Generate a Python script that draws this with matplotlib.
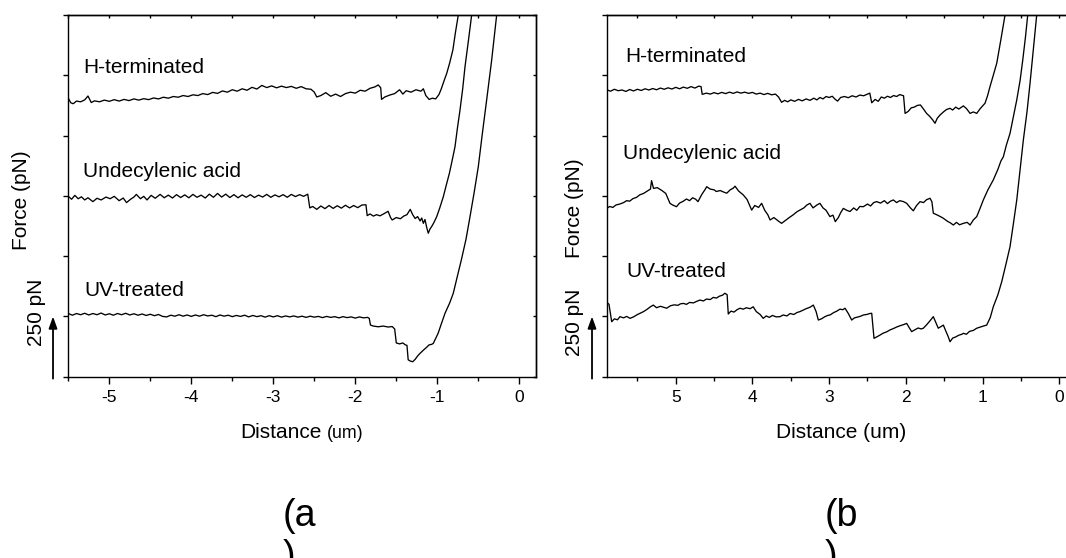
import matplotlib
matplotlib.use("Agg")
import matplotlib.pyplot as plt

plt.rcParams['font.family'] = ['Liberation Sans', 'DejaVu Sans']
plt.rcParams['axes.unicode_minus'] = False

# ---------------- data (Force in pN, Distance in um) ----------------
# Panel (a)
a_h_x = [-5.50, -5.47, -5.44, -5.40, -5.35, -5.30, -5.26, -5.22, -5.18, -5.12, -5.06, -5.00, -4.94, -4.88, -4.82,
         -4.76, -4.70, -4.64, -4.58, -4.52, -4.46, -4.40, -4.34, -4.28, -4.22, -4.16, -4.10, -4.04, -3.98, -3.92,
         -3.86, -3.80, -3.74, -3.68, -3.62, -3.56, -3.50, -3.44, -3.38, -3.32, -3.26, -3.20, -3.14, -3.08, -3.02,
         -2.96, -2.90, -2.84, -2.78, -2.72, -2.66, -2.60, -2.54, -2.50, -2.47, -2.42, -2.36, -2.30, -2.24, -2.18,
         -2.12, -2.06, -2.00, -1.94, -1.88, -1.82, -1.76, -1.72, -1.69, -1.68, -1.64, -1.58, -1.52, -1.46, -1.42,
         -1.38, -1.32, -1.26, -1.20, -1.17, -1.14, -1.10, -1.06, -1.02, -0.98, -0.95, -0.92, -0.885, -0.85, -0.81,
         -0.78, -0.744]
a_h_y = [1155, 1136, 1132, 1143, 1140, 1148, 1164, 1137, 1144, 1140, 1147, 1142, 1149, 1143, 1150,
         1145, 1152, 1147, 1153, 1149, 1156, 1152, 1159, 1155, 1162, 1159, 1166, 1162, 1169, 1166,
         1174, 1170, 1179, 1175, 1185, 1180, 1190, 1184, 1194, 1188, 1200, 1193, 1208, 1199, 1206,
         1198, 1205, 1199, 1204, 1196, 1203, 1194, 1192, 1180, 1160, 1166, 1178, 1163, 1172, 1162,
         1174, 1180, 1176, 1188, 1184, 1196, 1202, 1210, 1198, 1150, 1160, 1168, 1174, 1190, 1172,
         1186, 1180, 1190, 1184, 1194, 1166, 1150, 1155, 1152, 1170, 1195, 1225, 1258, 1300, 1355,
         1425, 1500]

a_u_x = [-5.50, -5.46, -5.42, -5.38, -5.34, -5.30, -5.26, -5.20, -5.15, -5.10, -5.04, -4.99, -4.94, -4.88, -4.83,
         -4.79, -4.74, -4.70, -4.67, -4.62, -4.58, -4.54, -4.49, -4.44, -4.38, -4.33, -4.28, -4.23, -4.18, -4.13,
         -4.08, -4.03, -3.98, -3.93, -3.88, -3.83, -3.78, -3.73, -3.68, -3.63, -3.58, -3.53, -3.48, -3.43, -3.38,
         -3.33, -3.28, -3.23, -3.18, -3.13, -3.08, -3.03, -2.98, -2.93, -2.88, -2.83, -2.78, -2.73, -2.68, -2.63,
         -2.58, -2.555, -2.52, -2.47, -2.42, -2.37, -2.32, -2.27, -2.22, -2.17, -2.12, -2.07, -2.02, -1.97, -1.92,
         -1.87, -1.855, -1.82, -1.78, -1.74, -1.70, -1.65, -1.60, -1.57, -1.55, -1.50, -1.45, -1.41, -1.37, -1.33,
         -1.30, -1.27, -1.24, -1.21, -1.19, -1.17, -1.15, -1.13, -1.11, -1.09, -1.07, -1.04, -1.007, -0.97, -0.927,
         -0.89, -0.853, -0.82, -0.784, -0.755, -0.723, -0.69, -0.662, -0.62, -0.581]
a_u_y = [748, 736, 752, 738, 746, 733, 742, 726, 740, 733, 745, 738, 748, 730, 741,
         722, 736, 745, 756, 738, 748, 733, 752, 740, 756, 742, 753, 741, 755, 743,
         754, 742, 756, 744, 753, 741, 757, 744, 760, 745, 757, 743, 755, 742, 754,
         744, 755, 743, 753, 745, 756, 744, 754, 746, 755, 744, 756, 747, 755, 748,
         757, 700, 706, 694, 708, 697, 710, 698, 709, 699, 711, 700, 710, 701, 712,
         713, 668, 675, 666, 672, 667, 676, 686, 660, 650, 660, 655, 666, 672, 694,
         672, 656, 664, 646, 658, 636, 652, 620, 595, 612, 622, 640, 664, 700, 746,
         795, 843, 895, 954, 1030, 1106, 1195, 1286, 1395, 1500]

a_v_x = [-5.50, -5.45, -5.40, -5.35, -5.30, -5.25, -5.20, -5.15, -5.10, -5.05, -5.00, -4.95, -4.90, -4.85, -4.80,
         -4.75, -4.70, -4.65, -4.60, -4.55, -4.50, -4.45, -4.40, -4.35, -4.30, -4.25, -4.20, -4.15, -4.10, -4.05,
         -4.00, -3.95, -3.90, -3.85, -3.80, -3.75, -3.70, -3.65, -3.60, -3.55, -3.50, -3.45, -3.40, -3.35, -3.30,
         -3.25, -3.20, -3.15, -3.10, -3.05, -3.00, -2.95, -2.90, -2.85, -2.80, -2.75, -2.70, -2.65, -2.60, -2.55,
         -2.50, -2.45, -2.40, -2.35, -2.30, -2.25, -2.20, -2.15, -2.10, -2.05, -2.00, -1.95, -1.90, -1.85, -1.83,
         -1.815, -1.78, -1.72, -1.66, -1.60, -1.55, -1.52, -1.50, -1.46, -1.42, -1.39, -1.37, -1.355, -1.33, -1.30,
         -1.27, -1.24, -1.21, -1.17, -1.13, -1.10, -1.07, -1.049, -0.99, -0.95, -0.906, -0.85, -0.805, -0.76, -0.707,
         -0.65, -0.601, -0.55, -0.50, -0.45, -0.398, -0.337, -0.276]
a_v_y = [262, 255, 262, 257, 263, 256, 262, 257, 264, 256, 261, 255, 262, 257, 263,
         256, 261, 255, 260, 254, 259, 253, 258, 250, 248, 255, 251, 257, 251, 256,
         250, 256, 251, 257, 252, 255, 249, 256, 251, 255, 249, 254, 250, 255, 248,
         254, 249, 253, 247, 253, 248, 253, 247, 252, 248, 252, 247, 251, 246, 251,
         247, 250, 245, 250, 246, 249, 244, 249, 245, 248, 243, 248, 244, 246, 242,
         214, 210, 207, 210, 206, 208, 198, 140, 136, 140, 132, 130, 70, 65, 62,
         72, 86, 97, 110, 122, 132, 134, 138, 180, 220, 263, 305, 346, 410, 484,
         570, 664, 765, 871, 1010, 1148, 1313, 1500]

# Panel (b)
b_h_x = [5.90, 5.85, 5.80, 5.75, 5.70, 5.65, 5.60, 5.55, 5.50, 5.45, 5.40, 5.35, 5.30, 5.25, 5.20,
         5.15, 5.10, 5.05, 5.00, 4.95, 4.90, 4.85, 4.80, 4.75, 4.70, 4.67, 4.655, 4.60, 4.55, 4.50,
         4.45, 4.40, 4.35, 4.30, 4.25, 4.20, 4.15, 4.10, 4.05, 4.00, 3.95, 3.90, 3.85, 3.80, 3.75,
         3.70, 3.66, 3.62, 3.58, 3.54, 3.50, 3.45, 3.40, 3.35, 3.30, 3.25, 3.20, 3.16, 3.12, 3.08,
         3.04, 3.00, 2.96, 2.92, 2.89, 2.85, 2.80, 2.75, 2.70, 2.65, 2.60, 2.55, 2.50, 2.47, 2.445,
         2.40, 2.36, 2.32, 2.28, 2.24, 2.20, 2.16, 2.12, 2.08, 2.03, 2.01, 1.97, 1.93, 1.89, 1.85,
         1.81, 1.77, 1.73, 1.69, 1.65, 1.62, 1.59, 1.555, 1.51, 1.47, 1.424, 1.39, 1.35, 1.31, 1.25,
         1.21, 1.163, 1.12, 1.076, 1.03, 0.968, 0.935, 0.903, 0.86, 0.815, 0.76, 0.707]
b_h_y = [1190, 1184, 1192, 1186, 1189, 1183, 1191, 1185, 1192, 1187, 1194, 1189, 1195, 1190, 1197,
         1192, 1198, 1193, 1200, 1194, 1201, 1196, 1203, 1197, 1205, 1203, 1171, 1176, 1172, 1178,
         1173, 1179, 1174, 1180, 1175, 1181, 1176, 1180, 1175, 1179, 1172, 1176, 1170, 1175, 1169,
         1172, 1160, 1138, 1146, 1140, 1148, 1142, 1150, 1144, 1152, 1146, 1155, 1148, 1158, 1152,
         1162, 1158, 1163, 1150, 1143, 1158, 1162, 1157, 1165, 1160, 1168, 1165, 1172, 1176, 1136,
         1150, 1142, 1160, 1155, 1163, 1158, 1166, 1162, 1170, 1165, 1092, 1100, 1115, 1118, 1125,
         1127, 1110, 1092, 1080, 1065, 1051, 1072, 1085, 1098, 1108, 1113, 1106, 1118, 1110, 1123,
         1112, 1092, 1098, 1092, 1112, 1134, 1165, 1203, 1250, 1300, 1400, 1500]

b_u_x = [5.90, 5.86, 5.82, 5.78, 5.73, 5.68, 5.64, 5.60, 5.56, 5.51, 5.47, 5.42, 5.37, 5.33, 5.315,
         5.29, 5.24, 5.18, 5.13, 5.10, 5.075, 5.04, 4.99, 4.95, 4.90, 4.86, 4.82, 4.78, 4.74, 4.71,
         4.66, 4.62, 4.596, 4.55, 4.50, 4.47, 4.42, 4.37, 4.335, 4.29, 4.25, 4.227, 4.18, 4.12, 4.07,
         4.01, 3.97, 3.92, 3.88, 3.84, 3.80, 3.77, 3.72, 3.66, 3.62, 3.57, 3.52, 3.47, 3.42, 3.38,
         3.33, 3.29, 3.25, 3.21, 3.16, 3.12, 3.08, 3.04, 2.99, 2.95, 2.92, 2.88, 2.85, 2.815, 2.77,
         2.728, 2.68, 2.64, 2.60, 2.554, 2.50, 2.46, 2.42, 2.38, 2.33, 2.28, 2.24, 2.20, 2.163, 2.12,
         2.08, 2.03, 1.989, 1.94, 1.903, 1.86, 1.815, 1.77, 1.73, 1.685, 1.66, 1.642, 1.60, 1.55, 1.511,
         1.46, 1.42, 1.381, 1.34, 1.30, 1.25, 1.20, 1.163, 1.12, 1.076, 1.03, 0.99, 0.93, 0.86, 0.80,
         0.76, 0.729, 0.69, 0.642, 0.60, 0.554, 0.51, 0.476, 0.44, 0.411]
b_u_y = [698, 706, 702, 712, 716, 722, 730, 728, 738, 744, 754, 760, 770, 778, 813,
         781, 784, 772, 760, 738, 719, 712, 705, 720, 728, 737, 730, 742, 736, 726,
         756, 775, 788, 778, 775, 768, 772, 765, 761, 775, 782, 790, 770, 754, 735,
         691, 710, 702, 719, 690, 672, 650, 660, 645, 636, 648, 660, 671, 684, 691,
         700, 712, 719, 700, 712, 719, 700, 690, 664, 670, 643, 660, 680, 698, 690,
         685, 700, 690, 706, 705, 716, 708, 722, 726, 720, 730, 718, 728, 733, 722,
         730, 726, 719, 700, 688, 710, 726, 722, 734, 740, 725, 678, 672, 664, 657,
         645, 638, 629, 640, 630, 636, 640, 629, 650, 664, 700, 733, 775, 816, 860,
         895, 912, 960, 1009, 1075, 1148, 1230, 1313, 1410, 1500]

b_v_x = [5.90, 5.892, 5.87, 5.835, 5.80, 5.76, 5.727, 5.68, 5.64, 5.596, 5.55, 5.51, 5.466, 5.42, 5.38,
         5.33, 5.292, 5.25, 5.20, 5.16, 5.118, 5.07, 5.02, 4.97, 4.94, 4.901, 4.86, 4.82, 4.77, 4.73,
         4.684, 4.64, 4.60, 4.55, 4.51, 4.47, 4.43, 4.39, 4.36, 4.33, 4.315, 4.28, 4.24, 4.20, 4.162,
         4.12, 4.08, 4.03, 3.99, 3.95, 3.90, 3.859, 3.82, 3.78, 3.74, 3.69, 3.64, 3.60, 3.55, 3.51,
         3.46, 3.42, 3.38, 3.34, 3.30, 3.25, 3.206, 3.17, 3.141, 3.10, 3.06, 3.02, 2.989, 2.94, 2.90,
         2.86, 2.82, 2.793, 2.75, 2.706, 2.67, 2.62, 2.58, 2.554, 2.51, 2.47, 2.445, 2.415, 2.38, 2.34,
         2.30, 2.25, 2.206, 2.16, 2.12, 2.07, 2.03, 1.989, 1.95, 1.924, 1.88, 1.84, 1.80, 1.772, 1.73,
         1.69, 1.642, 1.61, 1.577, 1.54, 1.511, 1.48, 1.45, 1.424, 1.39, 1.35, 1.31, 1.27, 1.25, 1.21,
         1.17, 1.12, 1.076, 1.03, 0.99, 0.946, 0.90, 0.86, 0.80, 0.75, 0.70, 0.642, 0.60, 0.554, 0.51,
         0.468, 0.42, 0.381, 0.34, 0.294]
b_v_y = [250, 307, 300, 228, 240, 236, 249, 244, 250, 242, 248, 256, 263, 270, 278,
         290, 297, 286, 292, 288, 284, 294, 298, 296, 302, 304, 300, 308, 306, 312,
         318, 314, 322, 320, 329, 326, 334, 338, 346, 340, 260, 272, 268, 278, 284,
         280, 286, 282, 290, 270, 258, 242, 252, 246, 254, 248, 249, 256, 252, 262,
         258, 266, 270, 276, 282, 288, 297, 270, 235, 240, 248, 254, 256, 266, 272,
         280, 278, 284, 262, 235, 244, 248, 252, 256, 258, 262, 263, 159, 165, 172,
         180, 186, 194, 200, 206, 212, 216, 221, 200, 187, 195, 202, 198, 201, 215,
         230, 249, 225, 201, 208, 214, 190, 168, 145, 160, 165, 172, 176, 180, 176,
         188, 192, 201, 206, 210, 214, 245, 290, 340, 394, 460, 539, 630, 733, 860,
         982, 1100, 1217, 1350, 1500]

labels = ["H-terminated", "Undecylenic acid", "UV-treated"]
a_label_x = [-5.32, -5.32, -5.31]
a_label_y = [1258, 827, 336]
b_label_x = [5.66, 5.69, 5.64]
b_label_y = [1305, 902, 415]

a_major = [-5, -4, -3, -2, -1, 0]
a_minor = [-5.5, -4.5, -3.5, -2.5, -1.5, -0.5]
b_major = [0, 1, 2, 3, 4, 5]
b_minor = [0.5, 1.5, 2.5, 3.5, 4.5, 5.5]
y_ticks = [0, 250, 500, 750, 1000, 1250, 1500]

# ---------------- figure ----------------
W, H = 1066, 558
fig = plt.figure(figsize=(W / 100, H / 100), dpi=100)

def px_rect(l, r, t, b):
    return [l / W, 1 - b / H, (r - l) / W, (b - t) / H]

axa = fig.add_axes(px_rect(68.3, 535.7, 15, 376.7))
axb = fig.add_axes(px_rect(606.7, 1074.6, 15, 376.7))

lw = 0.95
for x, y in [(a_h_x, a_h_y), (a_u_x, a_u_y), (a_v_x, a_v_y)]:
    axa.plot(x, y, color='black', lw=lw)
for x, y in [(b_h_x, b_h_y), (b_u_x, b_u_y), (b_v_x, b_v_y)]:
    axb.plot(x, y, color='black', lw=lw)

axa.set_xlim(-5.5, 0.2)
axb.set_xlim(5.9, -0.2)

for ax, major, minor, lx, ly, arrow_x, t250, force in [
        (axa, a_major, a_minor, a_label_x, a_label_y, -0.0327, (-0.069, 268), (-0.101, 733)),
        (axb, b_major, b_minor, b_label_x, b_label_y, -0.0314, (-0.0678, 227), (-0.0678, 699))]:
    ax.set_ylim(0, 1500)
    ax.set_yticks(y_ticks)
    ax.set_yticklabels([])
    ax.set_xticks(major)
    ax.set_xticks(minor, minor=True)
    for s in ax.spines.values():
        s.set_linewidth(1.0)
    ax.tick_params(axis='x', which='major', direction='out', length=5.2, width=1.0,
                   labelsize=12.5, pad=4.5, top=False)
    ax.tick_params(axis='x', which='minor', direction='out', length=3.0, width=1.0, top=False)
    ax.tick_params(axis='y', which='both', direction='out', length=3.6, width=1.0, right=False)
    sec = ax.secondary_xaxis('top')
    sec.set_xticks(major + minor)
    sec.tick_params(direction='in', length=2, width=1.0, labeltop=False)
    sec.spines['top'].set_linewidth(1.0)
    for t, x, y in zip(labels, lx, ly):
        ax.text(x, y, t, fontsize=15, va='baseline', ha='left')
    tr = ax.get_yaxis_transform()
    ax.annotate("", xy=(arrow_x, 250), xytext=(arrow_x, -8), xycoords=tr, textcoords=tr,
                annotation_clip=False,
                arrowprops=dict(arrowstyle='-|>,head_length=0.7,head_width=0.25', color='black', lw=1.3,
                                shrinkA=0, shrinkB=0))
    ax.text(t250[0], t250[1], "250 pN", transform=tr, rotation=90, fontsize=15,
            ha='center', va='center', clip_on=False)
    ax.text(force[0], force[1], "Force (pN)", transform=tr, rotation=90, fontsize=15,
            ha='center', va='center', clip_on=False)

# x-axis titles: panel (a) has a smaller "(um)"
fig.text(240 / W, 1 - 438.3 / H, "Distance", fontsize=15, ha='left', va='baseline')
fig.text(326.7 / W, 1 - 438.3 / H, "(um)", fontsize=12.8, ha='left', va='baseline')
fig.text(841 / W, 1 - 438.3 / H, "Distance (um)", fontsize=15, ha='center', va='baseline')

seca = axa.secondary_yaxis('right')
seca.set_yticks(y_ticks)
seca.tick_params(direction='in', length=2.5, width=1.0, labelright=False)
seca.spines['right'].set_linewidth(1.0)

fig.text(283 / W, 1 - 526 / H, "(a", fontsize=27, ha='left', va='baseline')
fig.text(283 / W, 1 - 567 / H, ")", fontsize=27, ha='left', va='baseline')
fig.text(825 / W, 1 - 526 / H, "(b", fontsize=27, ha='left', va='baseline')
fig.text(825 / W, 1 - 567 / H, ")", fontsize=27, ha='left', va='baseline')

fig.savefig("out.png", dpi=100)
